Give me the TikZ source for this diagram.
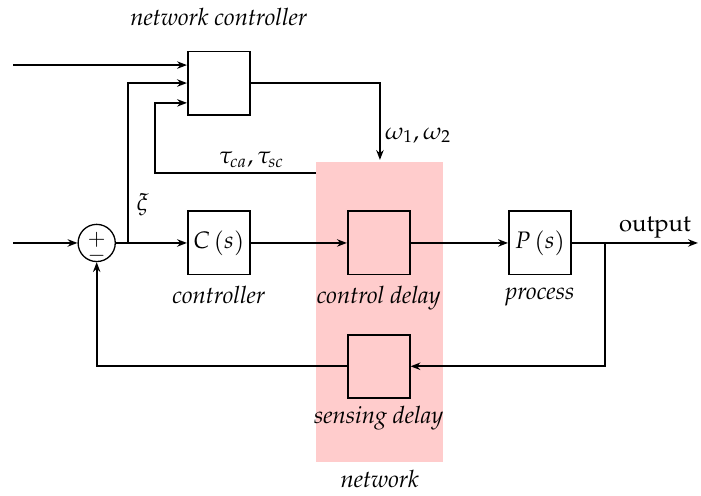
\documentclass[11pt,tikz,border=0pt]{standalone}
\usepackage[T1]{fontenc}
\usepackage{mathpazo}
\usetikzlibrary{positioning}
\usetikzlibrary{arrows.meta}
\usetikzlibrary{calc}
\definecolor{figRosa}{RGB}{255,204,204}
\tikzset{
  bloque/.style={
    rectangle, draw=black, line width=0.8pt,
    minimum width=1cm, minimum height=1.02cm, inner sep=1pt
  },
  sumador/.style={
    circle, draw=black, line width=0.6pt, minimum size=0.6cm, inner sep=0pt
  },
  signo/.style={inner sep=0pt, font=\small, align=center},
  etiqueta/.style={font=\itshape, inner sep=1pt, text height=1.6ex, text depth=0.5ex},
  zonared/.style={rectangle, fill=figRosa, draw=none, inner sep=0pt},
  flecha/.style={-{Stealth[length=4.5pt,width=3.4pt]}, line width=0.8pt},
  linea/.style={line width=0.8pt}
}

\begin{document}
\begin{tikzpicture}[node distance=0.12cm]
  \useasboundingbox (0,0) rectangle (11.31,8.0);
  \node[zonared, minimum width=2.05cm, minimum height=4.84cm] (zona) at (6.125,2.97) {};
  \node[etiqueta, below=0.08cm of zona] (lzona) {network};

  \node[sumador] (suma) at (1.56,4.08) {};
  \node[signo] (signos) at ($(suma)+(0,-0.08)$) {$+$\\[-5pt]$-$};
  \node[bloque] (ctrl) at (3.53,4.08) {$C\left(s\right)$};
  \node[bloque] (retc) at (6.11,4.08) {};
  \node[bloque] (proc) at (8.71,4.08) {$P\left(s\right)$};
  \node[bloque] (rets) at (6.11,2.09) {};
  \node[bloque] (nc) at (3.53,6.66) {};

  \node[etiqueta, below=of ctrl] (lctrl) {controller};
  \node[etiqueta, below=of retc] (lretc) {control delay};
  \node[etiqueta, below=0.06cm of proc] (lproc) {process};
  \node[etiqueta, below=0.06cm of rets] (lrets) {sensing delay};
  \node[etiqueta, above=0.28cm of nc] (lnc) {network controller};

  \coordinate (entrada) at (0.21,4.08);
  \coordinate (entnc) at (0.21,6.95);
  \coordinate (salida) at (11.26,4.08);
  \coordinate (nodo) at (2.06,4.08);
  \coordinate (rama) at (9.76,4.08);
  \coordinate (tau) at (5.10,5.21);
  \coordinate (codo) at (2.50,6.34);
  \coordinate (omega) at (6.13,5.42);

  \draw[flecha] (entrada) -- (suma);
  \draw[flecha] (suma) -- (ctrl);
  \draw[flecha] (ctrl) -- (retc);
  \draw[flecha] (retc) -- (proc);
  \draw[flecha] (proc) -- (salida) node[above, pos=0.66, inner sep=2pt] (lsal) {output};
  \draw[flecha] (rama) |- (rets);
  \draw[flecha] (rets) -| (suma);
  \draw[flecha] (nodo) |- node[right, pos=0.12] (lxi) {$\xi$} (nc);
  \draw[flecha] (entnc) -- (entnc -| nc.west);
  \draw[flecha] (tau) -| node[above, pos=0.2, inner sep=2pt] (ltau) {$\tau_{ca}, \tau_{sc}$} (codo) -- (codo -| nc.west);
  \draw[flecha] (nc) -| node[right, pos=0.84, inner sep=2pt] (lomega) {$\omega_1, \omega_2$} (omega);
\end{tikzpicture}
\end{document}
